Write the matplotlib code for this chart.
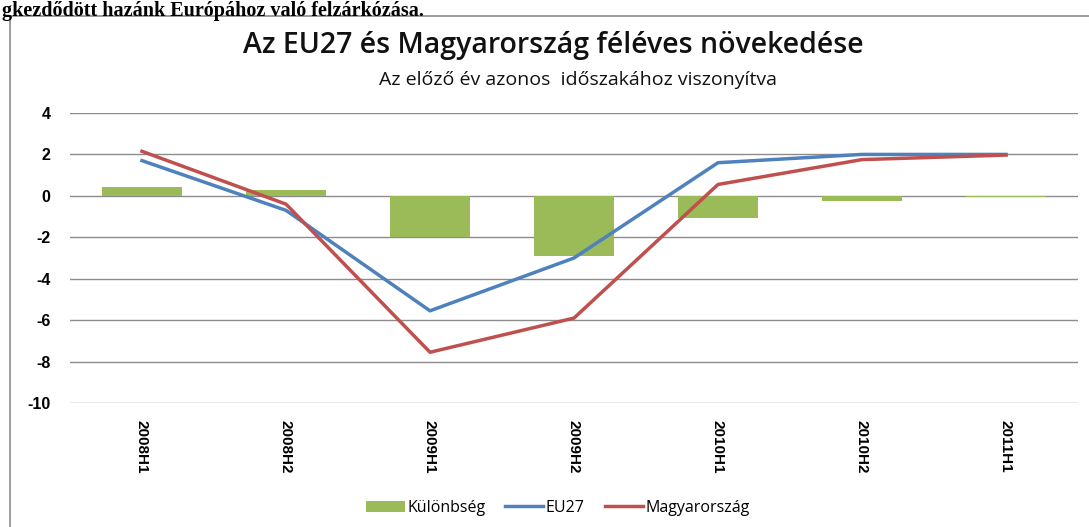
import matplotlib.pyplot as plt
import numpy as np
from matplotlib.patches import Rectangle

# data
periods = ['2008H1', '2008H2', '2009H1', '2009H2', '2010H1', '2010H2', '2011H1']
eu27 = [1.7, -0.7, -5.55, -3.0, 1.6, 2.0, 2.0]
hungary = [2.15, -0.4, -7.55, -5.9, 0.55, 1.75, 1.97]
diff = [0.45, 0.3, -2.0, -2.9, -1.05, -0.25, -0.05]
yticks = [4, 2, 0, -2, -4, -6, -8, -10]

plt.rcParams['font.family'] = ['Open Sans', 'DejaVu Sans']

fig = plt.figure(figsize=(10.89, 5.27), dpi=100)
W, H = 1089, 527

# chart frame
fig.patches.append(Rectangle((10 / W, -0.01), 1.2, 1 - 16 / H + 0.01, transform=fig.transFigure,
                             fill=False, edgecolor='#8c8c8c', lw=1.2, zorder=0))

# page text above the chart
fig.text(2 / W, 1 - 1 / H, 'gkezdődött hazánk Európához való felzárkózása.',
         family='Liberation Serif', weight='bold', fontsize=14.5, va='top', ha='left')

fig.text(553 / W, 1 - 45 / H, 'Az EU27 és Magyarország féléves növekedése',
         fontsize=20.5, fontweight='semibold', ha='center', va='center', color='#111111')
fig.text(578 / W, 1 - 80 / H, 'Az előző év azonos  időszakához viszonyítva',
         fontsize=14, ha='center', va='center', color='#111111')

ax = fig.add_axes([70 / W, 1 - 403 / H, 1008 / W, 290 / H])
x = np.arange(len(periods))
bars = ax.bar(x, diff, width=0.56, color='#9bbb59', label='Különbség', zorder=2)
l1, = ax.plot(x, eu27, color='#4f81bd', lw=2.5, label='EU27', zorder=3)
l2, = ax.plot(x, hungary, color='#c0504d', lw=2.5, label='Magyarország', zorder=3)

ax.set_xlim(-0.5, len(periods) - 0.5)
ax.set_ylim(-10, 4)
ax.set_yticks(yticks)
ax.set_yticklabels([str(v) for v in yticks], fontsize=11.5, fontweight='bold',
                   family='Liberation Sans')
ax.set_xticks(x)
ax.set_xticklabels(periods, rotation=-90, fontsize=11, fontweight='bold',
                   family='Liberation Sans')
ax.tick_params(axis='y', length=0, pad=14)
ax.tick_params(axis='x', length=0, pad=12)
ax.grid(axis='y', color='#8c8c8c', lw=1)
ax.set_axisbelow(True)
for s in ax.spines.values():
    s.set_visible(False)

fig.legend([bars, l1, l2], ['Különbség', 'EU27', 'Magyarország'],
           loc='center', bbox_to_anchor=(558 / W, 1 - 508 / H), ncol=3,
           frameon=False, fontsize=11.5, handlelength=2.4, handletextpad=0.15,
           columnspacing=1.25)

fig.savefig('out.png', dpi=100)
